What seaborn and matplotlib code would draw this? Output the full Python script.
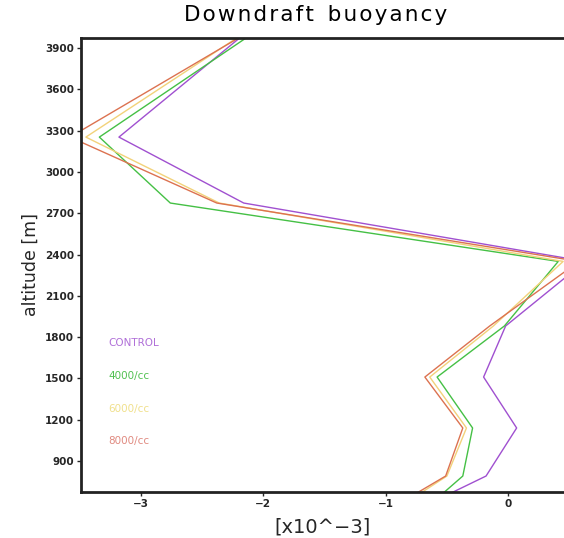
import pandas as pd
import seaborn as sns
import matplotlib.pyplot as plt

# altitude levels [m] and downdraft buoyancy [x10^-3] per run
altitud = [450, 791, 1140, 1510, 1881, 2350, 2774, 3253, 4100]
control = [-0.97, -0.18, 0.07, -0.20, -0.02, 0.63, -2.16, -3.18, -2.02]
cc4000 = [-0.81, -0.37, -0.29, -0.58, -0.03, 0.41, -2.76, -3.34, -1.93]
cc6000 = [-1.09, -0.50, -0.34, -0.64, -0.12, 0.45, -2.36, -3.45, -2.00]
cc8000 = [-1.16, -0.51, -0.37, -0.68, -0.15, 0.58, -2.38, -3.58, -1.96]

corridas = ['CONTROL', '4000/cc', '6000/cc', '8000/cc']
colores = ['#a050d0', '#45c045', '#f2d27a', '#dc7250']
colores_txt = ['#b070d8', '#50c050', '#f0e08c', '#e08a80']

datos = {'Corrida': [], 'Altitud': [], 'Valor': []}
for nombre, serie in zip(corridas, [control, cc4000, cc6000, cc8000]):
    for a, v in zip(altitud, serie):
        datos['Corrida'].append(nombre)
        datos['Altitud'].append(a)
        datos['Valor'].append(v)
df = pd.DataFrame(datos)

sns.set_style('white')
fig = plt.figure(figsize=(5.64, 5.38), dpi=100)
ax = fig.add_axes([0.1436, 0.0855, 0.8564, 0.8439])

sns.lineplot(data=df, x='Valor', y='Altitud', hue='Corrida', palette=colores,
             orient='y', estimator=None, sort=False, linewidth=1.0,
             legend=False, ax=ax)

ax.set_xlim(-3.49, 0.457)
ax.set_ylim(675, 3973)
ax.set_xticks([-3, -2, -1, 0])
ax.set_xticklabels(['\u22123', '\u22122', '\u22121', '0'])
ax.set_yticks(range(900, 4000, 300))
ax.tick_params(axis='both', direction='out', length=3, width=1, labelsize=7.5,
               left=True, bottom=True, pad=2)
for lab in ax.get_xticklabels() + ax.get_yticklabels():
    lab.set_fontweight('bold')

for lado in ['left', 'bottom', 'top']:
    ax.spines[lado].set_linewidth(2)
    ax.spines[lado].set_color('#222222')
ax.spines['right'].set_visible(False)

ax.set_xlabel('[x10^\u22123]', fontsize=14, labelpad=6)
ax.set_ylabel('altitude [m]', fontsize=12.5, labelpad=4)
titulo = '\u200a'.join('Downdraft buoyancy').replace('\u200a \u200a', '  ')
fig.text(0.56, 0.972, titulo, ha='center', va='center', fontsize=15.5,
         color='black')

pos_y = [0.328, 0.255, 0.183, 0.112]
for nombre, c, y in zip(corridas, colores_txt, pos_y):
    ax.text(0.056, y, nombre, color=c, fontsize=7.5, transform=ax.transAxes,
            va='center', ha='left')

fig.savefig('out.png', dpi=100)
